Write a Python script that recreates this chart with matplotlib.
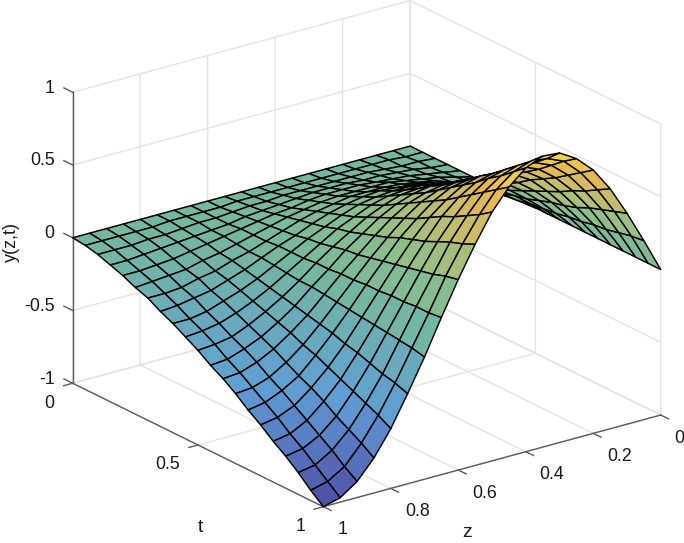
import matplotlib
matplotlib.use('Agg')
import matplotlib.pyplot as plt
import numpy as np
from matplotlib.colors import LinearSegmentedColormap
from mpl_toolkits.mplot3d import proj3d

plt.rcParams['font.family'] = ['Liberation Sans', 'DejaVu Sans']
plt.rcParams['grid.color'] = '#e4e4e4'
plt.rcParams['grid.linewidth'] = 1.0

# values
z_vals = [0, .05, .1, .15, .2, .25, .3, .35, .4, .45, .5, .55, .6, .65, .7, .75, .8, .85, .9, .95, 1]
t_vals = [0, .05, .1, .15, .2, .25, .3, .35, .4, .45, .5, .55, .6, .65, .7, .75, .8, .85, .9, .95, 1]
y_vals = [
    [0, 0, 0, 0, 0, 0, 0, 0, 0, 0, 0, 0, 0, 0, 0, 0, 0, 0, 0, 0, 0],
    [0, 0, .01, .01, .01, .01, .01, .01, .01, .01, .01, .01, 0, 0, 0, 0, -.01, -.01, -.01, -.01, -.01],
    [0, .01, .01, .02, .03, .03, .03, .03, .03, .03, .02, .02, .01, 0, 0, -.01, -.02, -.02, -.03, -.03, -.03],
    [0, .01, .03, .04, .05, .05, .06, .06, .06, .05, .04, .03, .02, 0, -.01, -.02, -.03, -.04, -.05, -.06, -.06],
    [0, .02, .04, .06, .07, .08, .09, .09, .09, .08, .06, .05, .03, .01, -.01, -.03, -.05, -.07, -.08, -.09, -.09],
    [0, .03, .06, .08, .10, .12, .12, .12, .12, .11, .09, .07, .04, .01, -.02, -.05, -.07, -.10, -.11, -.12, -.13],
    [0, .04, .07, .11, .13, .15, .16, .16, .16, .14, .12, .09, .05, .01, -.03, -.06, -.10, -.12, -.15, -.16, -.16],
    [0, .05, .09, .13, .17, .19, .20, .21, .20, .18, .15, .11, .06, .02, -.03, -.08, -.12, -.16, -.18, -.20, -.21],
    [0, .06, .11, .16, .20, .23, .25, .25, .24, .22, .18, .13, .08, .02, -.04, -.10, -.15, -.19, -.23, -.25, -.25],
    [0, .07, .14, .20, .24, .28, .30, .30, .29, .26, .21, .16, .09, .02, -.05, -.12, -.18, -.23, -.27, -.29, -.30],
    [0, .08, .16, .23, .29, .33, .35, .35, .34, .30, .25, .18, .11, .03, -.06, -.14, -.21, -.27, -.32, -.34, -.35],
    [0, .10, .19, .26, .33, .38, .40, .41, .39, .35, .29, .21, .13, .03, -.06, -.16, -.24, -.31, -.36, -.40, -.41],
    [0, .11, .21, .30, .38, .43, .46, .46, .44, .40, .33, .24, .14, .04, -.07, -.18, -.27, -.35, -.41, -.45, -.46],
    [0, .12, .24, .34, .42, .48, .52, .52, .50, .45, .37, .27, .16, .04, -.08, -.20, -.31, -.40, -.47, -.51, -.52],
    [0, .14, .27, .38, .47, .54, .58, .58, .56, .50, .41, .31, .18, .05, -.09, -.22, -.34, -.45, -.52, -.57, -.59],
    [0, .15, .29, .42, .53, .60, .64, .65, .62, .55, .46, .34, .20, .05, -.10, -.25, -.38, -.49, -.58, -.63, -.65],
    [0, .17, .32, .46, .58, .66, .71, .71, .68, .61, .51, .37, .22, .06, -.11, -.27, -.42, -.54, -.64, -.70, -.72],
    [0, .18, .36, .51, .63, .72, .77, .78, .75, .67, .55, .41, .24, .06, -.12, -.30, -.46, -.60, -.70, -.76, -.78],
    [0, .20, .39, .55, .69, .79, .84, .85, .81, .73, .60, .45, .26, .07, -.13, -.33, -.50, -.65, -.76, -.83, -.85],
    [0, .22, .42, .60, .75, .86, .91, .92, .88, .79, .65, .48, .29, .07, -.14, -.35, -.54, -.70, -.83, -.90, -.93],
    [0, .23, .45, .65, .81, .92, .99, 1.0, .95, .85, .71, .52, .31, .08, -.16, -.38, -.59, -.76, -.89, -.97, -1],
]
z_ticks = [0, .2, .4, .6, .8, 1]
t_ticks = [0, .5, 1]
y_ticks = [-1, -.5, 0, .5, 1]
z_labels = ['0', '0.2', '0.4', '0.6', '0.8', '1']
t_labels = ['0', '0.5', '1']
y_labels = ['-1', '-0.5', '0', '0.5', '1']

# washed out parula, colours
cmap = LinearSegmentedColormap.from_list('parula_light', [
    '#4e4ca4', '#5878c0', '#5f9fd3', '#68aabd', '#74b8a0',
    '#8cbf8a', '#bfbe6c', '#e8b850', '#f5e040'])

fig = plt.figure(figsize=(6.84, 5.43), dpi=100)
ax = fig.add_axes([31.9/684, -45.45/543, 652/684, 652/543], projection='3d', proj_type='ortho')
ax.computed_zorder = False
ax.view_init(elev=21.46, azim=53.4)
ax.set_box_aspect((1, 1, 0.744))

Z, T = np.meshgrid(z_vals, t_vals)
ax.plot_surface(Z, T, np.array(y_vals), rstride=1, cstride=1, cmap=cmap, vmin=-1, vmax=1,
                edgecolor='black', linewidth=1.05, shade=False, antialiased=True, zorder=5)

axis_col = '#5c5c5c'
ax.plot([1, 1], [0, 0], [-1, 1], color=axis_col, lw=1, zorder=2)
ax.plot([1, 1], [0, 1], [-1, -1], color=axis_col, lw=1, zorder=2)
ax.plot([0, 1], [1, 1], [-1, -1], color=axis_col, lw=1, zorder=2)
for v in y_ticks:
    ax.plot([1, 1], [0, -.035], [v, v], color=axis_col, lw=1, zorder=2)
for v in t_ticks:
    ax.plot([1, 1.027], [v, v], [-1, -1], color=axis_col, lw=1, zorder=2)
for v in z_ticks:
    ax.plot([v, v], [1, 1.031], [-1, -1], color=axis_col, lw=1, zorder=2)

ax.set_xlim(0, 1, view_margin=0)
ax.set_ylim(0, 1, view_margin=0)
ax.set_zlim(-1, 1, view_margin=0)
ax.set_xticks(z_ticks)
ax.set_yticks(t_ticks)
ax.set_zticks(y_ticks)
ax.set_xticklabels([])
ax.set_yticklabels([])
ax.set_zticklabels([])
ax.tick_params(color=(1, 1, 1, 0))
for a in (ax.xaxis, ax.yaxis, ax.zaxis):
    a.set_pane_color((1, 1, 1, 0))
    a.pane.set_edgecolor((1, 1, 1, 0))
    a.line.set_color((1, 1, 1, 0))

M = ax.get_proj()
txt_col = '#1a1a1a'


def put(x, y, z, s, dx, dy, ha='center', size=12.8, rot=0):
    X, Y, _ = proj3d.proj_transform(x, y, z, M)
    ax.annotate(s, (X, Y), xytext=(dx, dy), textcoords='offset pixels', ha=ha, va='center',
                fontsize=size, color=txt_col, rotation=rot, annotation_clip=False)


for v, s in zip(y_ticks, y_labels):
    put(1, 0, v, s, -18, 4, ha='right')
for v, s in zip(t_ticks, t_labels):
    put(1, v, -1, s, -18, -20, ha='right')
for v, s in zip(z_ticks, z_labels):
    put(v, 1, -1, s, 14, -23, ha='left')
put(1, .5, -1, 't', 2, -83, size=14)
put(.5, 1, -1, 'z', -25, -72, size=14)
put(1, 0, 0, 'y(z,t)', -61, -4, size=13, rot=90)

fig.savefig('out.png', dpi=100)
